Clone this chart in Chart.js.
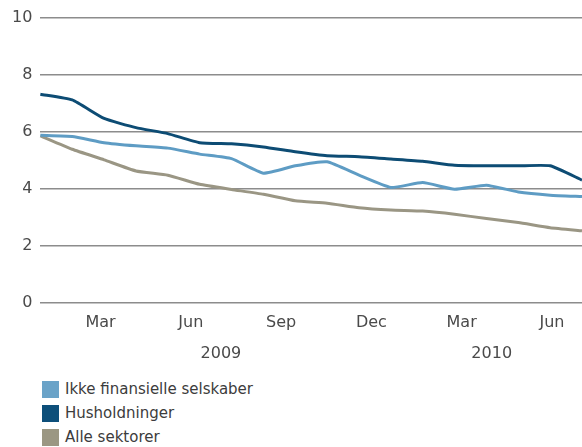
<!DOCTYPE html>
<html>
<head>
<meta charset="utf-8">
<script src="https://cdn.jsdelivr.net/npm/chart.js@4"></script>
<style>
  html, body { margin: 0; padding: 0; background: #fff; }
  body { width: 582px; height: 447px; overflow: hidden; position: relative; font-family: "DejaVu Sans", sans-serif; }
  #chart { position: absolute; left: 0; top: 0; }
  #legend { position: absolute; left: 42px; top: 377px; }
  .item { display: flex; align-items: center; height: 24px; font-size: 15px; color: #3c3c3c; }
  .box { width: 17px; height: 17px; margin-right: 6px; }
</style>
</head>
<body>
<canvas id="chart" width="593" height="367"></canvas>
<div id="legend"></div>
<script>
// Data points (18 observations across Jan 2009 - Jul 2010)
const periods = ['1','2','3','4','5','6','7','8','9','10','11','12','13','14','15','16','17','18'];
const ikkeFinansielle = [5.87, 5.83, 5.61, 5.50, 5.42, 5.21, 5.05, 4.54, 4.80, 4.94, 4.47, 4.04, 4.21, 3.98, 4.12, 3.88, 3.77, 3.72];
const husholdninger = [7.31, 7.11, 6.46, 6.14, 5.93, 5.61, 5.57, 5.46, 5.29, 5.15, 5.12, 5.04, 4.96, 4.82, 4.80, 4.80, 4.80, 4.30];
const alleSektorer = [5.85, 5.38, 5.01, 4.62, 4.47, 4.15, 3.97, 3.80, 3.57, 3.49, 3.33, 3.25, 3.21, 3.10, 2.95, 2.81, 2.63, 2.52];

// Tick labels (one per month, Jan 2009 - Jul 2010)
const monthLabels = ['', '', 'Mar', '', '', 'Jun', '', '', 'Sep', '', '', 'Dec', '', '', 'Mar', '', '', 'Jun', ''];
const yearLabels = ['', '', '', '', '', '', '2009', '', '', '', '', '', '', '', '', '2010', '', '', ''];
const yTicks = [0, 2, 4, 6, 8, 10];

const textColor = '#4a4a4a';
const tickFont = { family: 'DejaVu Sans', size: 16 };

const ctx = document.getElementById('chart').getContext('2d');
const chart = new Chart(ctx, {
  type: 'line',
  data: {
    labels: periods,
    datasets: [
      { label: 'Ikke finansielle selskaber', data: ikkeFinansielle, borderColor: '#5e9cc4', backgroundColor: '#6aa3c8' },
      { label: 'Husholdninger', data: husholdninger, borderColor: '#0d4c74', backgroundColor: '#0d4f7a' },
      { label: 'Alle sektorer', data: alleSektorer, borderColor: '#9a9684', backgroundColor: '#9b9783' }
    ]
  },
  options: {
    responsive: false,
    animation: false,
    devicePixelRatio: 1,
    layout: {
      padding: { left: 4, right: 0, top: 17, bottom: 4 }
    },
    elements: {
      line: { borderWidth: 3, tension: 0.15 },
      point: { radius: 0 }
    },
    scales: {
      x: {
        type: 'category',
        display: false,
        offset: false
      },
      months: {
        type: 'category',
        labels: monthLabels,
        position: 'bottom',
        offset: false,
        weight: 0,
        grid: { display: false, drawTicks: false },
        border: { display: false },
        ticks: { autoSkip: false, maxRotation: 0, padding: 11, color: textColor, font: tickFont }
      },
      years: {
        type: 'category',
        labels: yearLabels,
        position: 'bottom',
        offset: false,
        weight: 1,
        grid: { display: false, drawTicks: false },
        border: { display: false },
        ticks: { autoSkip: false, maxRotation: 0, padding: 0, color: textColor, font: tickFont }
      },
      y: {
        min: 0,
        max: 10,
        afterBuildTicks: axis => { axis.ticks = yTicks.map(v => ({ value: v })); },
        grid: { color: '#8c8c8c', lineWidth: 1.5, drawTicks: false },
        border: { display: false },
        ticks: { padding: 8, color: textColor, font: { family: 'DejaVu Sans', size: 16 } }
      }
    },
    plugins: {
      legend: { display: false },
      tooltip: { enabled: false }
    }
  }
});

// Leyenda vertical en HTML
const legend = document.getElementById('legend');
chart.data.datasets.forEach(ds => {
  const row = document.createElement('div');
  row.className = 'item';
  row.innerHTML = `<span class="box" style="background:${ds.backgroundColor}"></span>${ds.label}`;
  legend.appendChild(row);
});
</script>
</body>
</html>
